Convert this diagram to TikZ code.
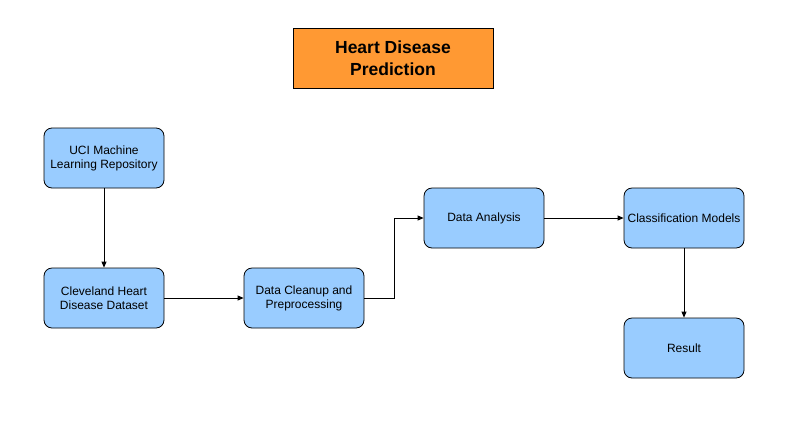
\documentclass[tikz,border=0pt]{standalone}
\usepackage{fontspec}
\setmainfont{Liberation Sans}
\usetikzlibrary{arrows.meta}
\definecolor{boxblue}{HTML}{99CCFF}
\definecolor{titleorange}{HTML}{FF9933}
\begin{document}
\begin{tikzpicture}[x=1pt,y=-1pt,
  stepbox/.style={draw=black, fill=boxblue, rounded corners=8pt, minimum width=120pt, minimum height=60pt, align=center, font=\fontsize{12}{14}\selectfont, line width=0.8pt, inner sep=1pt},
  titlebox/.style={draw=black, fill=titleorange, minimum width=200pt, minimum height=60pt, align=center, font=\fontsize{17.5}{22}\selectfont\bfseries, line width=0.8pt},
  conn/.style={draw=black, line width=0.8pt, -{Triangle[length=6pt,width=5pt]}}]
\useasboundingbox (0,0) rectangle (794,440);
\fill[white] (0,0) rectangle (794,440);
\node[titlebox] (title) at (393,58) {Heart Disease\\Prediction};
\node[stepbox] (uci) at (104,158) {UCI Machine\\Learning Repository};
\node[stepbox] (clev) at (104,298) {Cleveland Heart\\Disease Dataset};
\node[stepbox] (clean) at (304,298) {Data Cleanup and\\Preprocessing};
\node[stepbox] (ana) at (484,218) {Data Analysis};
\node[stepbox] (cls) at (684,218) {Classification Models};
\node[stepbox] (res) at (684,348) {Result};
\draw[conn] (uci) -- (clev);
\draw[conn] (clev) -- (clean);
\draw[conn] (clean.east) -- (394,298) -- (394,218) -- (ana.west);
\draw[conn] (ana) -- (cls);
\draw[conn] (cls) -- (res);
\end{tikzpicture}
\end{document}
